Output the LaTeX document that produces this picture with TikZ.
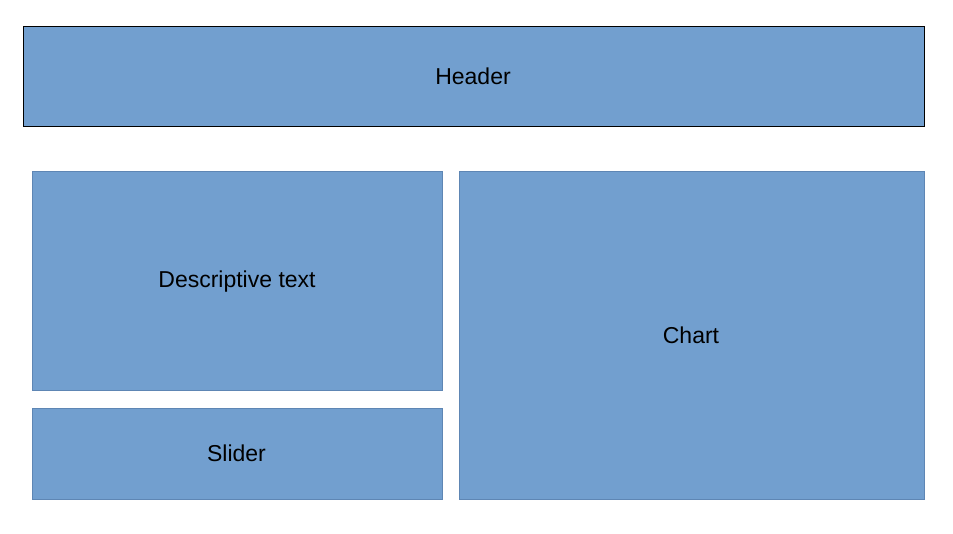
\documentclass[tikz,border=0pt]{standalone}
\usepackage{fontspec}
\setmainfont{Liberation Sans}
\definecolor{boxfill}{HTML}{729FCF}
\definecolor{boxline}{HTML}{5E86B4}
\begin{document}
\begin{tikzpicture}[x=1pt,y=-1pt,
  panel/.style={fill=boxfill,draw=boxline,line width=0.8pt},
  label/.style={font=\fontsize{23}{27}\selectfont,inner sep=0pt}]
\useasboundingbox (0,0) rectangle (953,533);
\fill[white] (0,0) rectangle (953,533);
\draw[fill=boxfill,draw=black,line width=1pt] (23,26) rectangle (924,126);
\node[label] (header) at (473,76) {Header};
\draw[panel] (32,171) rectangle (442,390);
\node[label] (desc) at (237,281.5) {Descriptive text};
\draw[panel] (32,408) rectangle (442,499);
\node[label] (slider) at (236.5,453.5) {Slider};
\draw[panel] (459,171) rectangle (924,499);
\node[label] (chart) at (691,335.5) {Chart};
\end{tikzpicture}
\end{document}
